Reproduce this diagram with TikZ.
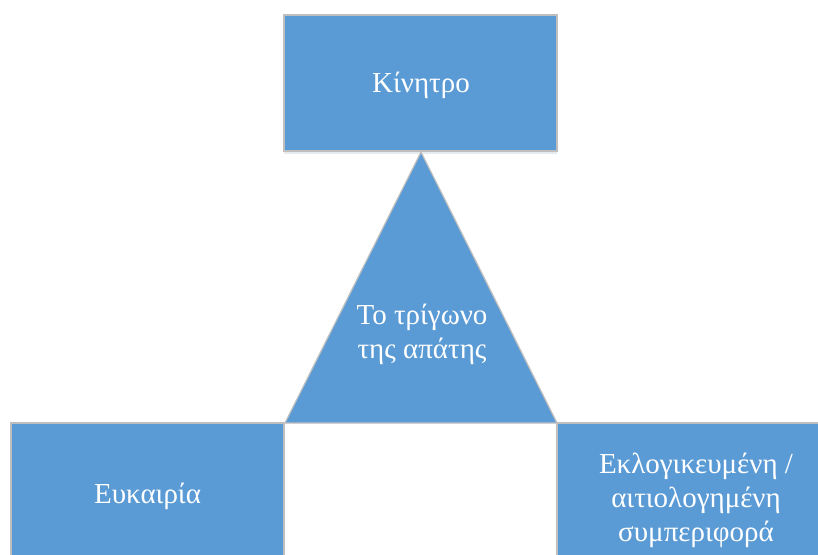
\documentclass[tikz,border=0pt]{standalone}
\usepackage{fontspec}
\setmainfont{Liberation Serif}
\usetikzlibrary{shadows}
\definecolor{boxblue}{HTML}{5B9BD5}
\definecolor{edgegrey}{HTML}{BFBFBF}
\begin{document}
\begin{tikzpicture}[x=1pt,y=1pt,
  box/.style={draw=edgegrey, line width=1.2pt, fill=boxblue, minimum width=273pt, minimum height=136pt, inner sep=0pt,
    drop shadow={shadow xshift=0pt, shadow yshift=-3pt, opacity=0.12, fill=boxblue!60!black}},
  lbl/.style={text=white, font=\fontsize{29}{34}\selectfont, align=center}]
\useasboundingbox (0,0) rectangle (818,554);
\fill[white] (0,0) rectangle (818,554);
% top box
\node[box] (top) at (420.5,471) {};
\node[lbl] (toplbl) at (421,469) {Κίνητρο};
% triangle
\coordinate (apex) at (421,402);
\coordinate (bl) at (285,131);
\coordinate (br) at (557,131);
\draw[draw=edgegrey, line width=1.2pt, fill=boxblue, line join=miter] (bl) -- (apex) -- (br) -- cycle;
\node[lbl] (tri) at (422,220) {Το τρίγωνο\\της απάτης};
% bottom boxes
\node[box] (left) at (147.5,63) {};
\node[lbl] (leftlbl) at (147.5,58) {Ευκαιρία};
\node[box] (right) at (693.5,63) {};
\node[lbl] (rightlbl) at (696,54) {Εκλογικευμένη /\\αιτιολογημένη\\συμπεριφορά};
\end{tikzpicture}
\end{document}
